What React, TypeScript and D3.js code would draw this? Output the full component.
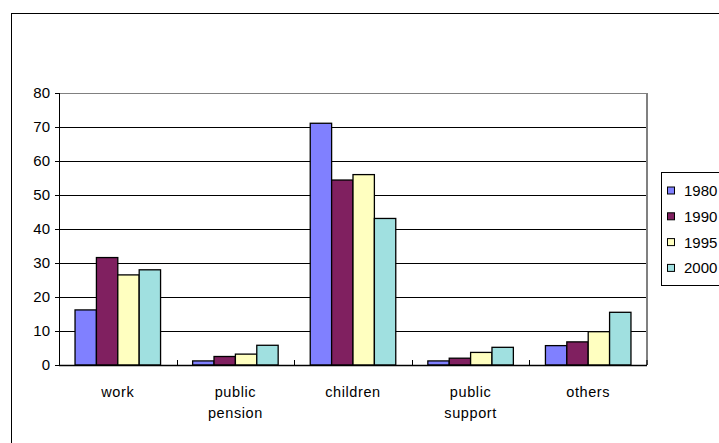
import React from "react";
import * as d3 from "d3";

const categories = ["work", "public pension", "children", "public support", "others"];
const categoryLines = [["work"], ["public", "pension"], ["children"], ["public", "support"], ["others"]];
const seriesNames = ["1980", "1990", "1995", "2000"];
const values1980 = [16.2, 1.2, 71.1, 1.2, 5.7];
const values1990 = [31.6, 2.5, 54.4, 2.0, 6.8];
const values1995 = [26.5, 3.2, 56.0, 3.7, 9.8];
const values2000 = [28.0, 5.8, 43.1, 5.2, 15.5];
const yTicks = [0, 10, 20, 30, 40, 50, 60, 70, 80];
const colors = ["#8080FF", "#802060", "#FFFFC0", "#A0E0E0"];

export default function App() {
  const W = 719, H = 443;
  const left = 59, right = 647, top = 93, bottom = 365;
  const series = [values1980, values1990, values1995, values2000];
  const x0 = d3.scaleBand().domain(categories).range([left, right]).paddingInner(0).paddingOuter(0);
  const groupW = x0.bandwidth();
  const barW = groupW / 5.5;
  const x1 = d3.scaleBand().domain(seriesNames).range([0, barW * 4]);
  const y = d3.scaleLinear().domain([0, 80]).range([bottom, top]);
  const font = "Arial, 'Liberation Sans', sans-serif";

  return (
    <svg width={W} height={H} style={{ position: "absolute", left: 0, top: 0 }}>
      <rect x={0} y={0} width={W} height={H} fill="#fff" />
      <rect x={11.5} y={13.5} width={W + 20} height={H + 20} fill="none" stroke="#000" strokeWidth={1} />
      {yTicks.slice(1).map((t) => (
        <line key={t} x1={left} x2={right} y1={Math.round(y(t)) + 0.5} y2={Math.round(y(t)) + 0.5} stroke={t === 80 ? "#808080" : "#000"} strokeWidth={1} />
      ))}
      <line x1={right} x2={right} y1={top} y2={bottom} stroke="#808080" strokeWidth={2} />
      {categories.map((c, ci) => (
        <g key={c}>
          {series.map((vals, si) => {
            const bx = (x0(c) as number) + barW * 0.75 + (x1(seriesNames[si]) as number);
            return (
              <rect key={si} x={bx} y={y(vals[ci])} width={barW} height={bottom - y(vals[ci])} fill={colors[si]} stroke="#000" strokeWidth={1.3} />
            );
          })}
        </g>
      ))}
      <line x1={left + 0.5} x2={left + 0.5} y1={top} y2={bottom} stroke="#000" strokeWidth={1} />
      <line x1={left} x2={right} y1={bottom + 0.5} y2={bottom + 0.5} stroke="#000" strokeWidth={1.3} />
      {yTicks.map((t) => (
        <g key={t}>
          <line x1={left - 4} x2={left} y1={Math.round(y(t)) + 0.5} y2={Math.round(y(t)) + 0.5} stroke="#000" />
          <text x={50} y={y(t)} dy="0.36em" textAnchor="end" fontFamily={font} fontSize={15}>{t}</text>
        </g>
      ))}
      {categories.map((c) => (
        <line key={"tk" + c} x1={Math.round(x0(c) as number) + 0.5} x2={Math.round(x0(c) as number) + 0.5} y1={bottom - 5} y2={bottom} stroke="#000" />
      ))}
      <line x1={right} x2={right} y1={bottom - 5} y2={bottom} stroke="#000" />
      {categories.map((c, i) => (
        <text key={"l" + c} x={(x0(c) as number) + groupW / 2} y={397} textAnchor="middle" fontFamily={font} fontSize={14.5} letterSpacing={0.6}>
          {categoryLines[i].map((ln, li) => (
            <tspan key={li} x={(x0(c) as number) + groupW / 2} dy={li === 0 ? 0 : 21}>{ln}</tspan>
          ))}
        </text>
      ))}
      <rect x={661.5} y={172.5} width={80} height={113} fill="#fff" stroke="#000" strokeWidth={1} />
      {seriesNames.map((s, i) => (
        <g key={s}>
          <rect x={667.5} y={187 + i * 25.8} width={7} height={7} fill={colors[i]} stroke="#000" strokeWidth={1} />
          <text x={684} y={190.5 + i * 25.8} dy="0.36em" fontFamily={font} fontSize={15}>{s}</text>
        </g>
      ))}
    </svg>
  );
}
